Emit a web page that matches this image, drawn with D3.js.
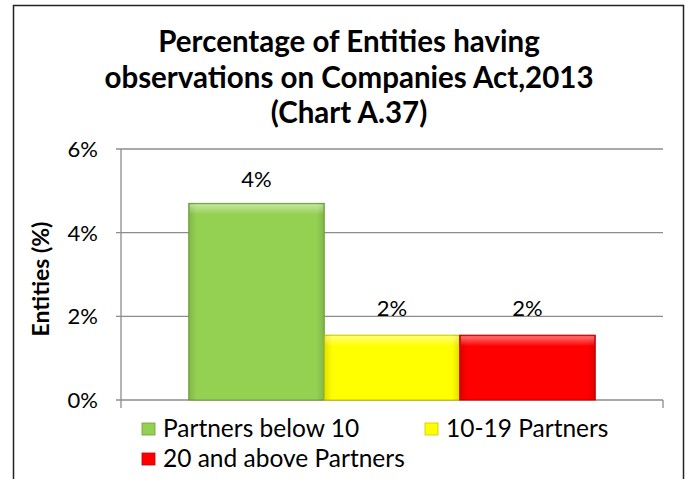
<!DOCTYPE html>
<html><head><meta charset="utf-8">
<script src="https://cdn.jsdelivr.net/npm/d3@7"></script>
<style>
html,body{margin:0;padding:0;background:#fff;}
text{font-family:Lato,"Open Sans",sans-serif;fill:#000;}
</style></head>
<body>
<svg id="chart" width="693" height="479"></svg>
<script>
const titleLines = ["Percentage of Entities having", "observations on Companies Act,2013", "(Chart A.37)"];
const seriesNames = ["Partners below 10", "10-19 Partners", "20 and above Partners"];
const seriesValues = [4.7, 1.55, 1.55];
const seriesLabels = ["4%", "2%", "2%"];
const seriesColors = ["#94d152", "#ffff00", "#ff0000"];
const edgeColors = ["#6e9e3a", "#c8c800", "#c00000"];
const yTicks = [0, 2, 4, 6];
const yTitle = "Entities (%)";

const svg = d3.select("#chart");
const W = 693, H = 479;
const m = {left:121, right:663, top:149, bottom:400};

// frame
svg.append("rect").attr("x",13.5).attr("y",5.5).attr("width",670).attr("height",H+10)
  .attr("fill","none").attr("stroke","#222").attr("stroke-width",1.5);

// title
svg.append("g").selectAll("text").data(titleLines).join("text")
  .attr("x",349).attr("y",(d,i)=>52+i*35.5)
  .attr("text-anchor","middle").attr("font-size",29.5).attr("font-weight","bold").text(d=>d);

const y = d3.scaleLinear().domain([0,6]).range([m.bottom,m.top]);
const x = d3.scaleBand().domain(seriesNames).range([m.left,m.right]).paddingInner(0).paddingOuter(0.5);

// grid
svg.append("g").selectAll("line").data(yTicks).join("line")
  .attr("x1",m.left-5).attr("x2",m.right).attr("y1",d=>y(d)).attr("y2",d=>y(d))
  .attr("stroke","#8c8c8c").attr("stroke-width",1.3);

// y axis line
svg.append("line").attr("x1",m.left).attr("x2",m.left).attr("y1",m.top).attr("y2",m.bottom+8)
  .attr("stroke","#8c8c8c").attr("stroke-width",1.3);
svg.append("line").attr("x1",m.right).attr("x2",m.right).attr("y1",m.bottom).attr("y2",m.bottom+8)
  .attr("stroke","#8c8c8c").attr("stroke-width",1.3);

// tick labels
svg.append("g").selectAll("text").data(yTicks).join("text")
  .attr("x",m.left-23).attr("y",d=>y(d)).attr("dy","0.36em")
  .attr("text-anchor","end").attr("font-size",22).text(d=>d+"%");

// y title
svg.append("text").attr("transform","translate(49,279) rotate(-90)")
  .attr("text-anchor","middle").attr("font-size",23).attr("font-weight","bold").text(yTitle);

// gradients
const defs = svg.append("defs");
const g1 = defs.append("linearGradient").attr("id","hl").attr("x1",0).attr("x2",0).attr("y1",0).attr("y2",1);
g1.append("stop").attr("offset","0").attr("stop-color","#fff").attr("stop-opacity",0.45);
g1.append("stop").attr("offset","1").attr("stop-color","#fff").attr("stop-opacity",0);
const g2 = defs.append("linearGradient").attr("id","sd").attr("x1",0).attr("x2",1).attr("y1",0).attr("y2",0);
g2.append("stop").attr("offset","0").attr("stop-color","#000").attr("stop-opacity",0.12);
g2.append("stop").attr("offset","0.06").attr("stop-color","#000").attr("stop-opacity",0);
g2.append("stop").attr("offset","0.94").attr("stop-color","#000").attr("stop-opacity",0);
g2.append("stop").attr("offset","1").attr("stop-color","#000").attr("stop-opacity",0.12);

const bars = svg.append("g").selectAll("g").data(seriesNames).join("g");
bars.append("rect").attr("x",d=>x(d)).attr("width",x.bandwidth())
  .attr("y",(d,i)=>y(seriesValues[i])).attr("height",(d,i)=>y(0)-y(seriesValues[i]))
  .attr("fill",(d,i)=>seriesColors[i]).attr("stroke",(d,i)=>edgeColors[i]).attr("stroke-width",1);
bars.append("rect").attr("x",d=>x(d)).attr("width",x.bandwidth())
  .attr("y",(d,i)=>y(seriesValues[i])).attr("height",(d,i)=>y(0)-y(seriesValues[i]))
  .attr("fill","url(#sd)");
bars.append("rect").attr("x",d=>x(d)+1).attr("width",x.bandwidth()-2)
  .attr("y",(d,i)=>y(seriesValues[i])+1).attr("height",10)
  .attr("fill","url(#hl)");
bars.append("text").attr("x",d=>x(d)+x.bandwidth()/2)
  .attr("y",(d,i)=>y(seriesValues[i])-(i===0?16:19))
  .attr("text-anchor","middle").attr("font-size",22).text((d,i)=>seriesLabels[i]);

// legend
const legPos = [[142,437],[425,437],[142,467]];
const leg = svg.append("g").selectAll("g").data(seriesNames).join("g")
  .attr("transform",(d,i)=>`translate(${legPos[i][0]},${legPos[i][1]})`);
leg.append("rect").attr("x",0).attr("y",-14).attr("width",13).attr("height",12)
  .attr("fill",(d,i)=>seriesColors[i]).attr("stroke",(d,i)=>edgeColors[i]).attr("stroke-width",0.8);
leg.append("text").attr("x",21).attr("y",0).attr("font-size",24.5).text(d=>d);
</script>
</body></html>
